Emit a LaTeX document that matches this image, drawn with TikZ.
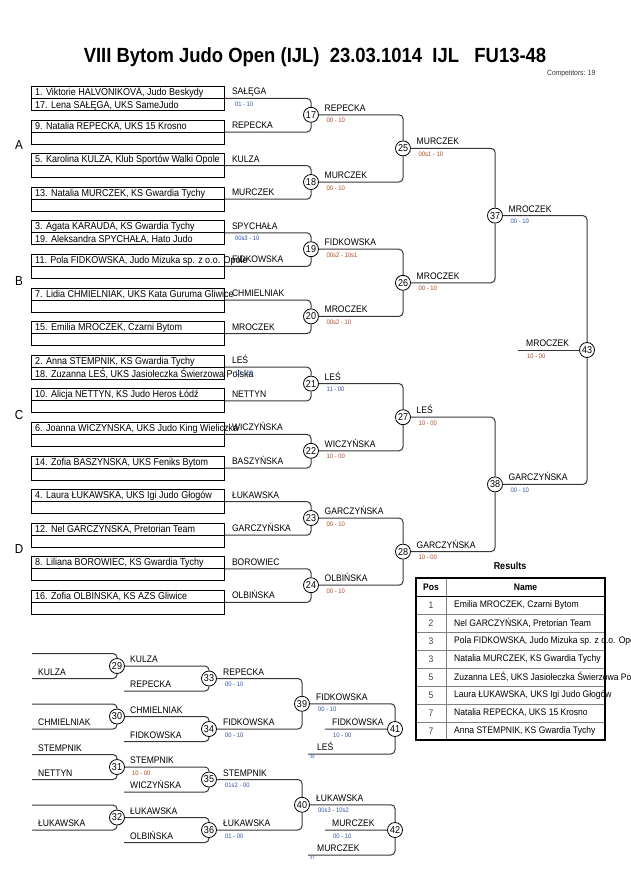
\documentclass[tikz,border=0pt]{standalone}
\usepackage{fontspec}
\setmainfont{Liberation Sans}[FakeStretch=0.9]

\definecolor{wiregray}{RGB}{55,55,55}
\definecolor{scorered}{RGB}{175,70,35}
\definecolor{scoreblue}{RGB}{45,85,170}

\begin{document}
\begin{tikzpicture}[x=1pt,y=-1pt,
  slotbox/.style={draw=black,line width=0.8pt,anchor=north west,minimum width=193pt,minimum height=24pt,inner sep=0pt},
  entry/.style={anchor=base west,inner sep=0pt,font=\fontsize{10}{11}\selectfont},
  wname/.style={anchor=base west,inner sep=0pt,font=\fontsize{9.5}{10}\selectfont},
  wscore/.style={anchor=base west,inner sep=0pt,font=\fontsize{6.5}{7}\selectfont},
  bout/.style={circle,draw=black,fill=white,line width=0.8pt,minimum size=15pt,inner sep=0pt,font=\fontsize{10}{10}\selectfont},
  wire/.style={draw=wiregray,line width=1pt,rounded corners=4pt},
  tinyno/.style={anchor=base west,inner sep=0pt,font=\fontsize{4.5}{5}\selectfont,text=scoreblue}]
	\useasboundingbox (0,0) rectangle (630,891);
	\clip (0,0) rectangle (630,891);

	% heading
	\node[font=\bfseries\fontsize{20.5}{23}\selectfont] (title) at (315,57) {VIII Bytom Judo Open (IJL)\ \ 23.03.1014\ \ IJL\ \ \ FU13-48};
	\node[anchor=east,font=\fontsize{7.5}{8}\selectfont,text=black!80] (count) at (599,74) {Competitors: 19};

	% pools
	\foreach \p/\y in {A/145,B/281,C/415,D/549}
		\node[font=\fontsize{13}{13}\selectfont] (pool\p) at (19,\y) {\p};

	% entry slots
	\foreach \i/\first/\second/\win in {
		0/{1. Viktorie HALVONIKOVÁ, Judo Beskydy}/{17. Lena SAŁĘGA, UKS SameJudo}/SAŁĘGA,
		1/{9. Natalia REPECKA, UKS 15 Krosno}/{}/REPECKA,
		2/{5. Karolina KULZA, Klub Sportów Walki Opole}/{}/KULZA,
		3/{13. Natalia MURCZEK, KS Gwardia Tychy}/{}/MURCZEK,
		4/{3. Agata KARAUDA, KS Gwardia Tychy}/{19. Aleksandra SPYCHAŁA, Hato Judo}/SPYCHAŁA,
		5/{11. Pola FIDKOWSKA, Judo Mizuka sp. z o.o. Opole}/{}/FIDKOWSKA,
		6/{7. Lidia CHMIELNIAK, UKS Kata Guruma Gliwice}/{}/CHMIELNIAK,
		7/{15. Emilia MROCZEK, Czarni Bytom}/{}/MROCZEK,
		8/{2. Anna STEMPNIK, KS Gwardia Tychy}/{18. Zuzanna LEŚ, UKS Jasiołeczka Świerzowa Polska}/LEŚ,
		9/{10. Alicja NETTYN, KS Judo Heros Łódź}/{}/NETTYN,
		10/{6. Joanna WICZYNSKA, UKS Judo King Wieliczka}/{}/WICZYŃSKA,
		11/{14. Zofia BASZYNSKA, UKS Feniks Bytom}/{}/BASZYŃSKA,
		12/{4. Laura ŁUKAWSKA, UKS Igi Judo Głogów}/{}/ŁUKAWSKA,
		13/{12. Nel GARCZYŃSKA, Pretorian Team}/{}/GARCZYŃSKA,
		14/{8. Liliana BOROWIEC, KS Gwardia Tychy}/{}/BOROWIEC,
		15/{16. Zofia OLBINSKA, KS AZS Gliwice}/{}/OLBIŃSKA}{
		\node[slotbox] (s\i) at (31,86+33.6*\i) {};
		\draw[line width=0.8pt] (s\i.west) -- (s\i.east);
		\node[entry] (s\i a) at ([shift={(4,9.5)}]s\i.north west) {\first};
		\node[entry] (s\i b) at ([shift={(4,-2.5)}]s\i.south west) {\second};
		\node[wname] (w\i) at ([shift={(7,-3.5)}]s\i.east) {\win};
	}
	\node[wscore,text=scoreblue] (ps0) at ([shift={(10,8)}]s0.east) {01 - 10};
	\node[wscore,text=scoreblue] (ps4) at ([shift={(10,8)}]s4.east) {00s3 - 10};
	\node[wscore,text=scoreblue] (ps8) at ([shift={(10,8)}]s8.east) {10 - 00};

	% main draw bouts
	\foreach \n [count=\k from 0] in {17,...,24}
		\node[bout] (c\n) at (311,114.8+67.2*\k) {\n};
	\node[bout] (c25) at (403,148.4) {25};
	\node[bout] (c26) at (403,282.8) {26};
	\node[bout] (c27) at (403,417.2) {27};
	\node[bout] (c28) at (403,551.6) {28};
	\node[bout] (c37) at (495,215.6) {37};
	\node[bout] (c38) at (495,484.4) {38};
	\node[bout] (c43) at (587,350) {43};
	\coordinate (fin) at (518,350);

	\foreach \n/\a/\b in {17/0/1,18/2/3,19/4/5,20/6/7,21/8/9,22/10/11,23/12/13,24/14/15}
		\draw[wire] (s\a.east) -| (c\n) (s\b.east) -| (c\n);
	\foreach \n/\a/\b in {25/17/18,26/19/20,27/21/22,28/23/24,37/25/26,38/27/28,43/37/38}
		\draw[wire] (c\a) -| (c\n) (c\b) -| (c\n);
	\draw[wire] (fin) -- (c43);

	\foreach \n/\who/\res/\col in {17/REPECKA/00 - 10/scorered, 18/MURCZEK/00 - 10/scorered,
		19/FIDKOWSKA/00s2 - 10s1/scorered, 20/MROCZEK/00s2 - 10/scorered,
		21/LEŚ/11 - 00/scoreblue, 22/WICZYŃSKA/10 - 00/scorered,
		23/GARCZYŃSKA/00 - 10/scorered, 24/OLBIŃSKA/00 - 10/scorered,
		25/MURCZEK/00s1 - 10/scorered, 26/MROCZEK/00 - 10/scorered,
		27/LEŚ/10 - 00/scorered, 28/GARCZYŃSKA/10 - 00/scorered,
		37/MROCZEK/00 - 10/scoreblue, 38/GARCZYŃSKA/00 - 10/scoreblue}{
		\node[wname] (n\n) at ([shift={(13.5,-3.5)}]c\n.center) {\who};
		\node[wscore,text=\col] (p\n) at ([shift={(15.5,8)}]c\n.center) {\res};
	}
	\node[wname] (n43) at ([shift={(8,-3.5)}]fin) {MROCZEK};
	\node[wscore,text=scorered] (p43) at ([shift={(9,8)}]fin) {10 - 00};

	% repechage
	\foreach \n [count=\k from 0] in {29,...,32}{
		\node[bout] (c\n) at (117,666+50.5*\k) {\n};
		\coordinate (r\n t) at (32,653.5+50.5*\k);
		\coordinate (r\n b) at (32,678.5+50.5*\k);
		\draw[wire] (r\n t) -| (c\n) (r\n b) -| (c\n);
	}
	\foreach \n [count=\k from 0] in {33,...,36}{
		\node[bout] (c\n) at (209,678.5+50.5*\k) {\n};
		\coordinate (r\n b) at (124,691+50.5*\k);
		\draw[wire] (r\n b) -| (c\n);
	}
	\draw[wire] (c29) -| (c33) (c30) -| (c34) (c31) -| (c35) (c32) -| (c36);
	\node[bout] (c39) at (302,703.75) {39};
	\node[bout] (c40) at (302,804.75) {40};
	\draw[wire] (c33) -| (c39) (c34) -| (c39) (c35) -| (c40) (c36) -| (c40);
	\node[bout] (c41) at (395,729) {41};
	\node[bout] (c42) at (395,830) {42};
	\coordinate (r41m) at (325,729);
	\coordinate (r41b) at (308,754);
	\coordinate (r42m) at (325,830);
	\coordinate (r42b) at (308,855);
	\draw[wire] (c39) -| (c41) (r41m) -- (c41) (r41b) -| (c41);
	\draw[wire] (c40) -| (c42) (r42m) -- (c42) (r42b) -| (c42);

	\node[wname] (i29) at ([shift={(6,-3.5)}]r29b) {KULZA};
	\node[wname] (i30) at ([shift={(6,-3.5)}]r30b) {CHMIELNIAK};
	\node[wname] (i31t) at ([shift={(6,-3.5)}]r31t) {STEMPNIK};
	\node[wname] (i31) at ([shift={(6,-3.5)}]r31b) {NETTYN};
	\node[wname] (i32) at ([shift={(6,-3.5)}]r32b) {ŁUKAWSKA};
	\node[wname] (i33) at ([shift={(6,-3.5)}]r33b) {REPECKA};
	\node[wname] (i34) at ([shift={(6,-3.5)}]r34b) {FIDKOWSKA};
	\node[wname] (i35) at ([shift={(6,-3.5)}]r35b) {WICZYŃSKA};
	\node[wname] (i36) at ([shift={(6,-3.5)}]r36b) {OLBIŃSKA};

	\foreach \n/\who/\res in {29/KULZA/{}, 30/CHMIELNIAK/{}, 31/STEMPNIK/10 - 00, 32/ŁUKAWSKA/{}}{
		\node[wname] (n\n) at ([shift={(13,-3.5)}]c\n.center) {\who};
		\node[wscore,text=scorered] (p\n) at ([shift={(15,8)}]c\n.center) {\res};
	}
	\foreach \n/\who/\res in {33/REPECKA/00 - 10, 34/FIDKOWSKA/00 - 10, 35/STEMPNIK/01s2 - 00,
		36/ŁUKAWSKA/01 - 00, 39/FIDKOWSKA/00 - 10, 40/ŁUKAWSKA/00s3 - 10s2}{
		\node[wname] (n\n) at ([shift={(14,-3.5)}]c\n.center) {\who};
		\node[wscore,text=scoreblue] (p\n) at ([shift={(16,8)}]c\n.center) {\res};
	}
	\node[wname] (i41m) at ([shift={(7,-3.5)}]r41m) {FIDKOWSKA};
	\node[wscore,text=scoreblue] (q41m) at ([shift={(8,8)}]r41m) {10 - 00};
	\node[wname] (i41b) at ([shift={(9,-3.5)}]r41b) {LEŚ};
	\node[tinyno] (t41b) at ([shift={(2,4.5)}]r41b) {38};
	\node[wname] (i42m) at ([shift={(7,-3.5)}]r42m) {MURCZEK};
	\node[wscore,text=scoreblue] (q42m) at ([shift={(8,8)}]r42m) {00 - 10};
	\node[wname] (i42b) at ([shift={(9,-3.5)}]r42b) {MURCZEK};
	\node[tinyno] (t42b) at ([shift={(2,4.5)}]r42b) {37};

	% results
	\node[font=\bfseries\fontsize{10}{11}\selectfont] (restitle) at (510,566) {Results};
	\draw[gray,line width=0.6pt] (446,578) -- (446,740);
	\foreach \k in {1,...,7}
		\draw[gray,line width=0.6pt] (416,596+18*\k) -- (605,596+18*\k);
	\draw[line width=1pt] (416,596) -- (605,596);
	\draw[line width=1.6pt] (416,578) rectangle (605,740);
	\node[font=\bfseries\fontsize{9.5}{10}\selectfont] (hpos) at (431,587) {Pos};
	\node[font=\bfseries\fontsize{9.5}{10}\selectfont] (hname) at (525.5,587) {Name};
	\foreach \p/\who [count=\k] in {1/{Emilia MROCZEK, Czarni Bytom},
		2/{Nel GARCZYŃSKA, Pretorian Team},
		3/{Pola FIDKOWSKA, Judo Mizuka sp. z o.o. Opole},
		3/{Natalia MURCZEK, KS Gwardia Tychy},
		5/{Zuzanna LEŚ, UKS Jasiołeczka Świerzowa Polska},
		5/{Laura ŁUKAWSKA, UKS Igi Judo Głogów},
		7/{Natalia REPECKA, UKS 15 Krosno},
		7/{Anna STEMPNIK, KS Gwardia Tychy}}{
		\node[font=\fontsize{9.5}{10}\selectfont,text=black!75] (pos\k) at (431,587+18*\k) {\p};
		\node[anchor=west,inner sep=0pt,font=\fontsize{9.5}{10}\selectfont] (who\k) at (454,587+18*\k) {\who};
	}
\end{tikzpicture}
\end{document}
